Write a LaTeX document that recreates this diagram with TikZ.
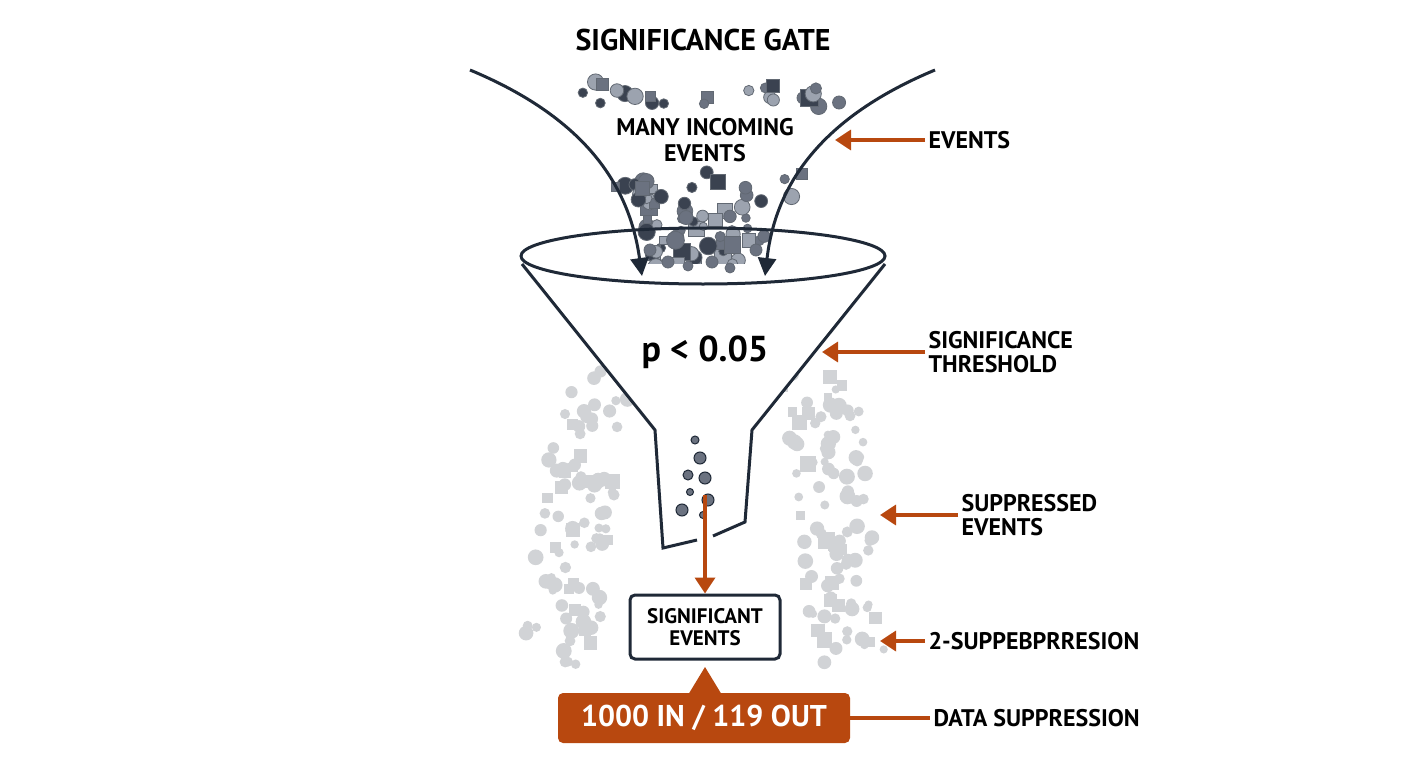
\documentclass[tikz,border=0pt]{standalone}
\usepackage{fontspec}
\setmainfont{PT Sans}
\usetikzlibrary{arrows.meta}
\definecolor{navy}{HTML}{1F2937}
\definecolor{org}{HTML}{B8480F}
\definecolor{pA}{HTML}{3A4250}
\definecolor{pB}{HTML}{6B7280}
\definecolor{pC}{HTML}{9CA3AF}
\definecolor{sup}{HTML}{D1D3D6}
\newcommand{\fs}[1]{\fontsize{#1}{#1}\selectfont\bfseries}
\begin{document}
\begin{tikzpicture}[x=1pt,y=-1pt,
  lbl/.style={anchor=west,align=left,font=\fs{24},text=black},
  oarr/.style={org,line width=3.5pt,-{Triangle[length=16pt,width=20pt]}},
  navyline/.style={navy,line width=3pt}]
\useasboundingbox[fill=white] (0,0) rectangle (1408,768);
\node (title) at (703,40) {\fs{30}SIGNIFICANCE GATE};
% incoming particles
\pgfmathsetseed{7}
\foreach \i in {1,...,150}{
  \pgfmathsetmacro\yy{82+190*rnd}
  \pgfmathsetmacro\hw{148-(\yy-82)*0.526}
  \pgfmathsetmacro\xx{705+(2*rnd-1)*\hw}
  \pgfmathsetmacro\rr{4+5*rnd}
  \pgfmathrandominteger\sh{0}{3}
  \pgfmathrandominteger\cc{0}{2}
  \pgfmathsetmacro\skp{((\yy>105)&&(\yy<172)&&(abs(\xx-705)<112))?1:0}
  \ifdim\skp pt<0.5pt
    \ifcase\cc \def\col{pA}\or\def\col{pB}\else\def\col{pC}\fi
    \ifnum\sh=0
      \draw[fill=\col,draw=navy!70,line width=0.8pt] (\xx-\rr,\yy-\rr) rectangle (\xx+\rr,\yy+\rr);
    \else
      \draw[fill=\col,draw=navy!70,line width=0.8pt] (\xx,\yy) circle (\rr);
    \fi
  \fi
}
\node (many) at (705,140) [align=center,font=\fs{24}] {MANY INCOMING\\[2pt]EVENTS};
% suppressed particles
\foreach \side/\c/\s in {L/598/-0.13,R/818/0.1}{
  \foreach \i in {1,...,95}{
    \pgfmathsetmacro\yy{370+295*rnd}
    \pgfmathsetmacro\xx{\c+(\yy-370)*\s+(2*rnd-1)*38}
    \pgfmathsetmacro\rr{4+4*rnd}
    \pgfmathrandominteger\sh{0}{4}
    \ifnum\sh=0
      \fill[sup] (\xx-\rr,\yy-\rr) rectangle (\xx+\rr,\yy+\rr);
    \else
      \fill[sup] (\xx,\yy) circle (\rr);
    \fi
  }
}
% funnel
\fill[white] (655,430) -- (522,264) -- (885,264) -- (752,430) -- (745,522) -- (663,548) -- cycle;
\draw[navyline] (522,264) -- (655,430) -- (663,548) -- (697,540)
  (713,536) -- (745,522) -- (752,430) -- (885,264);
\draw[navyline] (703,256) ellipse (182 and 28);
\foreach \xx/\yy/\rr in {695/440/4,700/458/6,688/475/5,705/478/6,690/492/3.5,708/500/6,682/510/6,703/515/3.5}
  \draw[fill=pB,draw=navy,line width=1pt] (\xx,\yy) circle (\rr);
% inner particles over rim
\foreach \xx/\yy/\rr in {668/262/6,688/266/5,712/262/6,730/268/5,650/250/6,756/250/6}
  \draw[fill=pB,draw=navy!70,line width=0.8pt] (\xx,\yy) circle (\rr);
% curved arrows
\coordinate (lt) at (470,70); \coordinate (rt) at (935,70);
\coordinate (lh) at (642,276); \coordinate (rh) at (765,276);
\draw[navyline,-{Triangle[length=18pt,width=18pt]}] (lt) .. controls (590,120) and (630,190) .. (lh);
\draw[navyline,-{Triangle[length=18pt,width=18pt]}] (rt) .. controls (815,120) and (775,190) .. (rh);
\node (p) at (705,352) {\fs{36}p < 0.05};
% significant
\coordinate (spout) at (705,495);
\node (sig) at (705,627) [draw=navy,line width=3pt,rounded corners=5pt,fill=white,minimum width=150pt,minimum height=64pt,align=center,font=\fs{21}] {SIGNIFICANT\\[1pt]EVENTS};
\draw[oarr] (spout) -- (sig.north);
\node (cnt) at (704,718) [fill=org,rounded corners=5pt,minimum width=292pt,minimum height=50pt,text=white,font=\fs{30}] {1000 IN / 119 OUT};
\fill[org] (688,695) -- (705,667) -- (722,695) -- cycle;
% labels
\node[lbl] (ev) at (925,140) {EVENTS};
\coordinate (evh) at (835,140);
\draw[oarr] (ev.west) -- (evh);
\node[lbl] (th) at (925,352) {SIGNIFICANCE\\THRESHOLD};
\coordinate (thh) at (822,352);
\draw[oarr] (th.west) -- (thh);
\node[lbl] (se) at (958,515) {SUPPRESSED\\EVENTS};
\coordinate (seh) at (880,515);
\draw[oarr] (se.west) -- (seh);
\node[lbl] (s2) at (925,641) {2-SUPPEBPRRESION};
\coordinate (s2h) at (880,641);
\draw[oarr] (s2.west) -- (s2h);
\node[lbl] (ds) at (930,718) {DATA SUPPRESSION};
\draw[org,line width=3.5pt] (cnt.east) -- (ds.west);
\end{tikzpicture}
\end{document}
